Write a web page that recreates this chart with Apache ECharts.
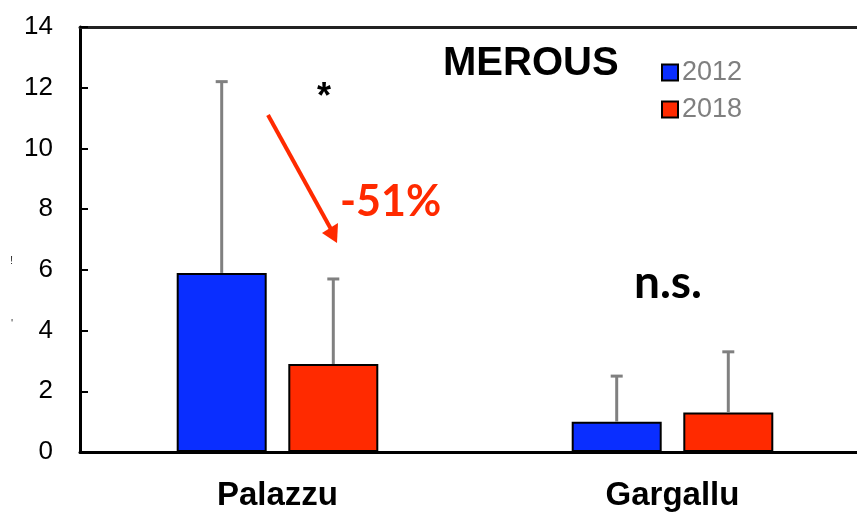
<!DOCTYPE html>
<html>
<head>
<meta charset="utf-8">
<script src="https://cdn.jsdelivr.net/npm/echarts@6/dist/echarts.min.js"></script>
<style>
  html, body { margin: 0; padding: 0; background: #fff; }
  #chart { width: 857px; height: 512px; }
</style>
</head>
<body>
<div id="chart"></div>
<script>
// Sites and yearly survey means (with standard deviations)
const categories = ['Palazzu', 'Gargallu'];
const years = ['2012', '2018'];
const mean2012 = [5.9, 1.0];
const sd2012 = [6.3, 1.5];
const mean2018 = [2.9, 1.3];
const sd2018 = [2.8, 2.0];
const yTicks = [0, 2, 4, 6, 8, 10, 12, 14];

const BLUE = '#0a2eff';
const RED = '#ff2a00';
const BAR_W = 90;
const GAP = 0.24;

// Upward-only error whiskers, shifted to sit over each bar of the pair
function whisker(offset) {
  return function (params, api) {
    const i = api.value(0);
    const base = api.coord([i, api.value(1)]);
    const top = api.coord([i, api.value(2)]);
    const x = base[0] + offset;
    const style = { stroke: '#808080', lineWidth: 3 };
    return {
      type: 'group',
      children: [
        { type: 'line', shape: { x1: x, y1: base[1], x2: x, y2: top[1] }, style },
        { type: 'line', shape: { x1: x - 6, y1: top[1], x2: x + 6, y2: top[1] }, style }
      ]
    };
  };
}
const half = BAR_W * (1 + GAP) / 2;

const chart = echarts.init(document.getElementById('chart'));
chart.setOption({
  animation: false,
  backgroundColor: '#ffffff',
  grid: { left: 80, top: 27, bottom: 60, width: 790, containLabel: false, outerBoundsMode: 'none' },
  legend: {
    data: years,
    orient: 'vertical',
    left: 661,
    top: 59,
    padding: 0,
    icon: 'rect',
    itemWidth: 16,
    itemHeight: 16,
    itemGap: 10,
    textStyle: { color: '#7f7f7f', fontSize: 27, fontFamily: 'Liberation Sans, Arial, sans-serif', padding: [0, 0, 0, -1] }
  },
  xAxis: [
    {
      type: 'category',
      data: categories,
      axisLine: { lineStyle: { color: '#000', width: 3 } },
      axisTick: { show: false },
      axisLabel: {
        margin: 27,
        color: '#000',
        fontSize: 33,
        fontWeight: 'bold',
        fontFamily: 'Liberation Sans, Arial, sans-serif'
      }
    },
    {
      type: 'category',
      data: categories,
      position: 'top',
      axisLine: { lineStyle: { color: '#222', width: 3 } },
      axisTick: { show: false },
      axisLabel: { show: false }
    }
  ],
  yAxis: {
    type: 'value',
    min: yTicks[0],
    max: yTicks[yTicks.length - 1],
    interval: 2,
    axisLine: { show: true, lineStyle: { color: '#000', width: 3 } },
    axisTick: { show: true, inside: true, length: 8, lineStyle: { color: '#000', width: 2 } },
    splitLine: { show: false },
    axisLabel: {
      margin: 27,
      color: '#000',
      fontSize: 26,
      fontFamily: 'Liberation Sans, Arial, sans-serif'
    }
  },
  series: [
    {
      name: years[0],
      type: 'bar',
      data: mean2012,
      barWidth: BAR_W,
      barGap: (GAP * 100) + '%',
      itemStyle: { color: BLUE, borderColor: '#000', borderWidth: 2 }
    },
    {
      name: years[1],
      type: 'bar',
      data: mean2018,
      barWidth: BAR_W,
      itemStyle: { color: RED, borderColor: '#000', borderWidth: 2 }
    },
    {
      type: 'custom',
      renderItem: whisker(-half),
      data: categories.map((c, i) => [i, mean2012[i], mean2012[i] + sd2012[i]]),
      z: 5,
      silent: true
    },
    {
      type: 'custom',
      renderItem: whisker(half),
      data: categories.map((c, i) => [i, mean2018[i], mean2018[i] + sd2018[i]]),
      z: 5,
      silent: true
    }
  ],
  graphic: [
    {
      type: 'text', left: 443, top: 44,
      style: { text: 'MEROUS', fill: '#000', font: 'bold 40px "Liberation Sans", Arial, sans-serif' }
    },
    {
      type: 'text', left: 317, top: 80,
      style: { text: '*', fill: '#000', font: 'bold 36px "Liberation Sans", Arial, sans-serif' }
    },
    {
      type: 'line',
      shape: { x1: 268, y1: 115, x2: 332, y2: 231 },
      style: { stroke: RED, lineWidth: 4 }
    },
    {
      type: 'polygon',
      shape: { points: [[337, 243], [322, 233], [338, 223]] },
      style: { fill: RED }
    },
    {
      type: 'text', left: 340, top: 181,
      style: { text: '-51%', fill: RED, font: 'bold 43px Lato, "Open Sans", sans-serif' }
    },
    {
      type: 'text', left: 634, top: 260,
      style: { text: 'n.s.', fill: '#000', font: 'bold 46px Lato, "Open Sans", sans-serif' }
    },
    {
      type: 'text', left: 10, top: 255,
      style: { text: '!', fill: '#333', font: '11px "Liberation Sans", Arial, sans-serif' }
    },
    {
      type: 'text', left: 11, top: 318,
      style: { text: "'", fill: '#333', font: '11px "Liberation Sans", Arial, sans-serif' }
    }
  ]
});
</script>
</body>
</html>
